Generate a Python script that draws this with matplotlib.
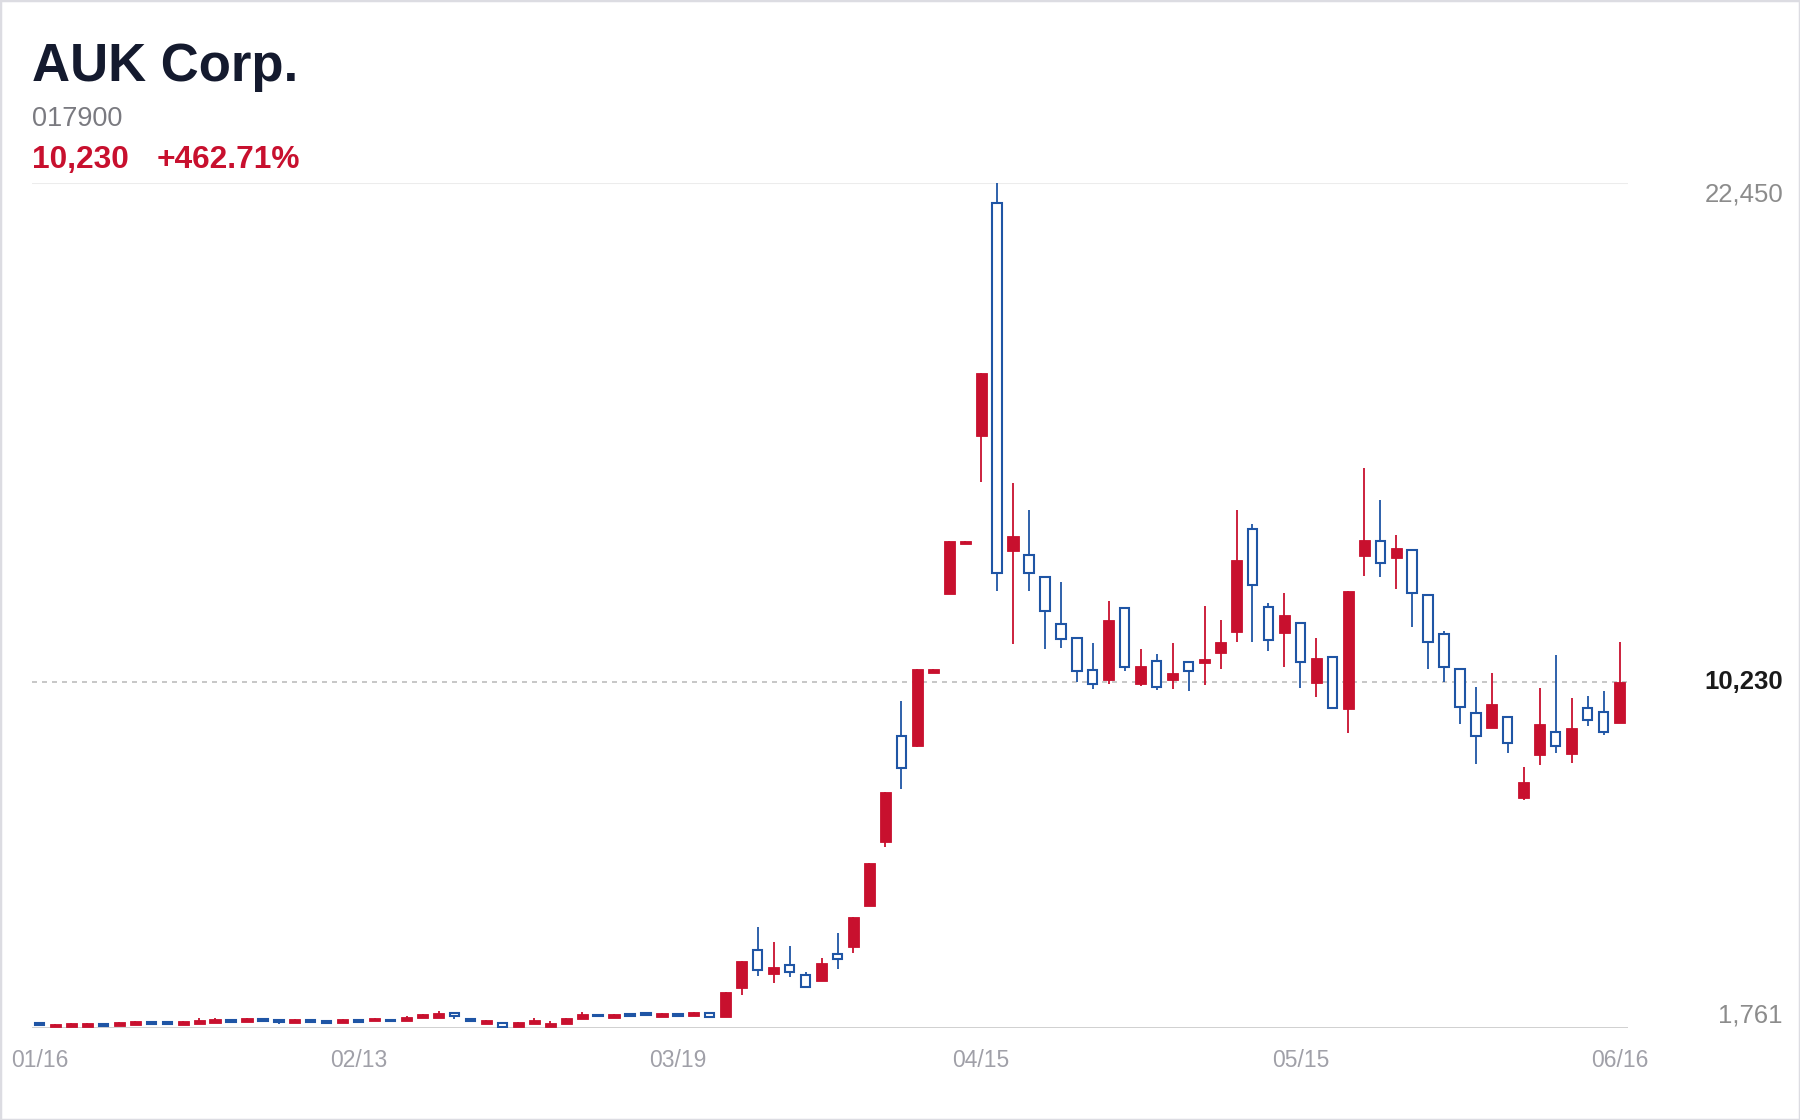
import matplotlib
matplotlib.use('Agg')
import matplotlib.pyplot as plt
from matplotlib.patches import Rectangle
from matplotlib.transforms import blended_transform_factory

plt.rcParams['font.family'] = ['Liberation Sans', 'DejaVu Sans']

# ============================================================================
# DATA (daily candles)
# ============================================================================
company = 'AUK Corp.'
ticker = '017900'

opens = [1899, 1777, 1785, 1785, 1875, 1818, 1826, 1932, 1932, 1834,
         1867, 1875, 1973, 1899, 2014, 1981, 1883, 1981, 1956, 1891,
         1981, 1924, 1989, 1940, 1997, 2014, 2144, 2014, 1859, 1899,
         1793, 1867, 1793, 1850, 1989, 2103, 2014, 2120, 2144, 2038,
         2120, 2054, 2144, 2039, 2733, 3688, 3084, 3320, 3075, 2920,
         3606, 3753, 4757, 6324, 8935, 8669, 10459, 12389, 13607, 16249,
         21993, 13438, 13373, 12839, 11686, 11339, 10562, 10281, 12061, 10187,
         10777, 10281, 10738, 10706, 10934, 11465, 13995, 12101, 11440, 11701,
         10200, 10877, 9563, 13317, 13709, 13260, 13497, 12387, 11441, 10576,
         9499, 9115, 9409, 7385, 8446, 9042, 8462, 9613, 9531, 9237]

closes = [1818, 1867, 1883, 1883, 1785, 1916, 1924, 1834, 1834, 1932,
          1965, 1973, 1883, 1997, 1916, 1891, 1981, 1883, 1859, 1989,
          1883, 2006, 1916, 2030, 2095, 2120, 2038, 1908, 1956, 1761,
          1916, 1965, 1891, 2014, 2095, 2022, 2103, 2030, 2046, 2136,
          2030, 2152, 2014, 2635, 3410, 3165, 3263, 3116, 2733, 3345,
          3426, 4471, 5809, 7531, 8094, 10543, 10543, 13682, 13682, 17786,
          12876, 13813, 12876, 11948, 11264, 10468, 10159, 11752, 10562, 10628,
          10093, 10445, 10469, 10796, 11220, 13219, 12583, 11236, 11881, 10690,
          10812, 9563, 12460, 13709, 13113, 13505, 12387, 11179, 10568, 9588,
          8895, 9686, 8715, 7777, 9197, 8650, 9099, 9287, 8976, 10230]

highs = [1899, 1867, 1883, 1883, 1875, 1916, 1924, 1932, 1932, 1932,
         2006, 2006, 1989, 1997, 2014, 1981, 1981, 1981, 1956, 1989,
         1981, 2006, 1989, 2063, 2095, 2169, 2144, 2014, 1956, 1899,
         1916, 2006, 1924, 2014, 2144, 2103, 2103, 2120, 2144, 2136,
         2120, 2152, 2144, 2635, 3410, 4226, 3859, 3777, 3141, 3467,
         4079, 4471, 5809, 7531, 9767, 10543, 10543, 13682, 13682, 17786,
         22450, 15106, 14450, 12839, 12689, 11339, 11190, 12220, 12061, 11030,
         10908, 11179, 10738, 12093, 11751, 14444, 14101, 12175, 12420, 11701,
         11310, 10877, 12460, 15462, 14688, 13831, 13497, 12387, 11489, 10576,
         10103, 10445, 9409, 8144, 10078, 10894, 9850, 9890, 10021, 11204]

lows = [1818, 1777, 1785, 1785, 1785, 1818, 1826, 1834, 1834, 1834,
        1867, 1875, 1883, 1899, 1916, 1850, 1883, 1883, 1859, 1891,
        1883, 1924, 1916, 1940, 1997, 2014, 1989, 1908, 1859, 1761,
        1793, 1867, 1793, 1850, 1989, 2022, 2014, 2030, 2046, 2038,
        2030, 2054, 2014, 2039, 2569, 3035, 2871, 3018, 2733, 2920,
        3206, 3606, 4757, 6201, 7613, 8640, 10459, 12389, 13607, 15125,
        12454, 11171, 12454, 11030, 11058, 10234, 10065, 10187, 10496, 10140,
        10027, 10069, 10020, 10159, 10559, 11204, 11220, 10983, 10592, 10094,
        9857, 9563, 8976, 12836, 12811, 12518, 11571, 10543, 10241, 9205,
        8226, 9115, 8503, 7344, 8201, 8487, 8258, 9156, 8935, 9237]

tick_idx = [0, 20, 40, 59, 79, 99]
tick_labels = ['01/16', '02/13', '03/19', '04/15', '05/15', '06/16']

UP = '#c8102e'
DOWN = '#1f55a5'

# ============================================================================
# FIGURE
# ============================================================================
W, H = 1800, 1120
fig = plt.figure(figsize=(W / 100, H / 100), dpi=100)
fig.patch.set_facecolor('white')
fig.patches.append(Rectangle((0, 0), 1, 1, transform=fig.transFigure, fill=False,
                             edgecolor='#dcdce2', linewidth=2.5))

ax_l, ax_r, ax_t, ax_b = 32, 1628, 183, 1028
ax = fig.add_axes([ax_l / W, 1 - ax_b / H, (ax_r - ax_l) / W, (ax_b - ax_t) / H])

n = len(closes)
x = list(range(n))
up = [c >= o for o, c in zip(opens, closes)]
last = closes[-1]
hi = max(highs)
lo = min(lows)

# hollow boxes: keep the stroke inside the open/close range
edge_lw = 1.5
half_edge = (hi - lo) / (ax_b - ax_t) * (edge_lw * 100 / 72) / 2

# wicks
ax.vlines(x, lows, highs, colors=[UP if u else DOWN for u in up], linewidth=1.3, zorder=2)

# bodies
ux = [i for i in x if up[i]]
dx = [i for i in x if not up[i]]
ax.bar(ux, [closes[i] - opens[i] for i in ux], bottom=[opens[i] for i in ux],
       width=0.7, color=UP, edgecolor=UP, linewidth=0.6, zorder=3)
ax.bar(dx, [max(opens[i] - closes[i] - 2 * half_edge, 1) for i in dx],
       bottom=[closes[i] + half_edge for i in dx],
       width=0.58, color='white', edgecolor=DOWN, linewidth=edge_lw, zorder=3)

ax.axhline(last, color='#bdbdbd', linewidth=1.2, linestyle=(0, (3, 3)), zorder=1)
ax.axhline(hi, color='#ececec', linewidth=1.5, zorder=0)
ax.axhline(lo, color='#cccccc', linewidth=2, zorder=0)

ax.set_xlim(-0.47, n - 0.47)
ax.set_ylim(lo, hi)
for s in ax.spines.values():
    s.set_visible(False)
ax.set_yticks([])
ax.set_xticks(tick_idx)
ax.set_xticklabels(tick_labels, fontsize=16.5, color='#a0a0a8')
ax.tick_params(axis='x', length=0, pad=15)

# price labels on the right
tr = blended_transform_factory(ax.transAxes, ax.transData)
xr = (1783 - ax_l) / (ax_r - ax_l)
ax.text(xr, hi, f'{hi:,}', transform=tr, ha='right', va='top', fontsize=18.5, color='#8c8c8c')
ax.text(xr, lo, f'{lo:,}', transform=tr, ha='right', va='bottom', fontsize=18.5, color='#8c8c8c')
ax.text(xr, last, f'{last:,}', transform=tr, ha='right', va='center', fontsize=18.5,
        fontweight='bold', color='#1a1a1a')

# header
chg = (last / closes[0] - 1) * 100
fig.text(32 / W, 1 - 81 / H, company, fontsize=38, fontweight='bold', color='#141a2e', va='baseline')
fig.text(32 / W, 1 - 126 / H, ticker, fontsize=19.5, color='#7a7a80', va='baseline')
fig.text(32 / W, 1 - 168 / H, f'{last:,}', fontsize=22.8, fontweight='bold', color=UP, va='baseline')
fig.text(157 / W, 1 - 168 / H, f'+{chg:.2f}%', fontsize=22.8, fontweight='bold', color=UP, va='baseline')

fig.savefig('out.png', dpi=100, facecolor='white')
